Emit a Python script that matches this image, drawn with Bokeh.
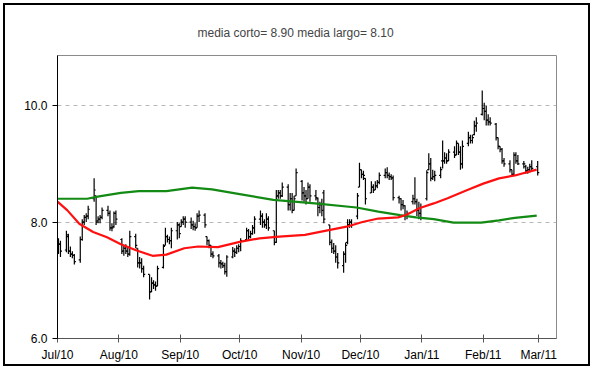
import pandas as pd
from bokeh.plotting import figure
from bokeh.models import ColumnDataSource, Range1d, FixedTicker, DatetimeTickFormatter, NumeralTickFormatter
from bokeh.embed import file_html
from bokeh.resources import INLINE

title_text = "media corto= 8.90 media largo= 8.10"
month_ticks = ["2010-07-01", "2010-08-01", "2010-09-01", "2010-10-01", "2010-11-01",
               "2010-12-01", "2011-01-01", "2011-02-01", "2011-03-01"]
y_ticks = [6.0, 8.0, 10.0]

# daily OHLC, trading days 2010-07-01 .. 2011-02-28 (one line per month)
opens = [
    7.55, 7.62, 7.52, 7.75, 7.50, 7.45, 7.43, 7.35, 7.70, 8.00, 8.08, 8.10, 8.40, 8.45, 8.02, 8.05, 8.08, 8.20, 8.15, 7.90, 7.92, 8.15,
    7.70, 7.50, 7.55, 7.50, 7.45, 7.75, 7.55, 7.30, 7.30, 7.20, 7.10, 6.80, 6.95, 6.92, 6.90, 7.22, 7.60, 7.75, 7.70, 7.68, 7.85, 7.95,
    7.92, 8.00, 8.05, 8.00, 7.95, 7.92, 7.90, 8.10, 8.12, 7.75, 7.68, 7.60, 7.45, 7.42, 7.30, 7.28, 7.25, 7.15, 7.40, 7.50, 7.48, 7.55,
    7.58, 7.70, 7.85, 7.75, 7.80, 7.90, 8.05, 8.10, 8.00, 7.95, 8.05, 7.85, 7.65, 8.45, 8.50, 8.45, 8.60, 8.30, 8.40, 8.20, 8.45,
    8.70, 8.50, 8.45, 8.40, 8.60, 8.45, 8.40, 8.25, 8.30, 8.50, 7.95, 7.65, 7.55, 7.50, 7.40, 7.25, 7.45, 7.65, 7.95, 8.00, 8.10, 8.60,
    8.90, 8.82, 8.75, 8.50, 8.60, 8.55, 8.62, 8.68, 8.80, 8.85, 8.80, 8.78, 8.76, 8.42, 8.40, 8.30, 8.28, 8.10, 8.35, 8.40, 8.35, 8.20, 8.15,
    8.40, 8.90, 9.00, 8.75, 8.78, 8.80, 9.05, 9.05, 9.10, 9.05, 9.20, 9.15, 9.35, 9.20, 9.00, 9.35, 9.45, 9.40, 9.50, 9.65, 9.85,
    9.95, 9.90, 9.75, 9.72, 9.68, 9.45, 9.30, 9.25, 9.05, 9.00, 8.90, 8.82, 9.15, 9.05, 9.00, 8.95, 8.88, 8.90, 8.95, 8.95,
]
highs = [
    7.72, 7.68, 7.85, 7.80, 7.58, 7.50, 7.45, 7.75, 8.05, 8.12, 8.15, 8.28, 8.75, 8.45, 8.10, 8.12, 8.25, 8.28, 8.20, 7.98, 8.18, 8.20,
    7.72, 7.60, 7.62, 7.58, 7.85, 7.80, 7.55, 7.40, 7.38, 7.25, 7.10, 7.05, 7.00, 6.98, 7.25, 7.62, 7.90, 7.78, 7.75, 7.90, 8.00, 7.98,
    8.05, 8.10, 8.10, 8.08, 8.02, 7.98, 8.15, 8.20, 8.15, 7.75, 7.70, 7.60, 7.50, 7.45, 7.35, 7.32, 7.30, 7.43, 7.57, 7.55, 7.60, 7.62,
    7.72, 7.90, 7.88, 7.85, 7.95, 8.10, 8.20, 8.15, 8.05, 8.15, 8.10, 7.85, 8.55, 8.55, 8.55, 8.68, 8.65, 8.50, 8.50, 8.45, 8.92,
    8.72, 8.60, 8.55, 8.68, 8.65, 8.55, 8.42, 8.35, 8.40, 8.55, 7.95, 7.70, 7.64, 7.60, 7.47, 7.50, 7.65, 8.05, 8.05, 8.05, 8.50, 9.02,
    8.90, 8.88, 8.75, 8.70, 8.65, 8.70, 8.72, 8.85, 8.92, 8.94, 8.85, 8.82, 8.80, 8.45, 8.41, 8.38, 8.29, 8.20, 8.47, 8.77, 8.40, 8.35, 8.32,
    8.89, 9.18, 9.10, 8.90, 8.88, 8.95, 9.40, 9.20, 9.18, 9.25, 9.30, 9.40, 9.35, 9.30, 9.40, 9.55, 9.50, 9.50, 9.74, 9.80, 10.26,
    10.05, 10.00, 9.85, 9.80, 9.70, 9.45, 9.30, 9.27, 9.10, 9.06, 8.90, 9.20, 9.20, 9.15, 9.05, 8.98, 8.95, 9.00, 9.06, 9.05,
]
lows = [
    7.45, 7.40, 7.48, 7.45, 7.40, 7.38, 7.27, 7.30, 7.68, 7.95, 8.00, 8.05, 8.35, 7.95, 7.98, 7.98, 8.05, 8.10, 7.85, 7.84, 7.90, 7.95,
    7.45, 7.42, 7.45, 7.40, 7.42, 7.55, 7.22, 7.20, 7.13, 7.05, 6.67, 6.80, 6.85, 6.82, 6.90, 7.20, 7.60, 7.65, 7.62, 7.55, 7.70, 7.72,
    7.92, 7.95, 7.90, 7.88, 7.86, 7.85, 7.90, 8.00, 7.90, 7.60, 7.55, 7.40, 7.38, 7.22, 7.20, 7.21, 7.10, 7.06, 7.38, 7.40, 7.45, 7.48,
    7.50, 7.68, 7.70, 7.72, 7.78, 7.80, 7.95, 7.90, 7.90, 7.88, 7.85, 7.60, 7.64, 8.40, 8.40, 8.43, 8.20, 8.20, 8.15, 8.20, 8.45,
    8.37, 8.35, 8.30, 8.40, 8.35, 8.37, 8.10, 8.15, 8.10, 7.98, 7.60, 7.47, 7.45, 7.30, 7.20, 7.13, 7.30, 7.62, 7.90, 7.90, 8.05, 8.60,
    8.75, 8.72, 8.30, 8.50, 8.50, 8.55, 8.58, 8.65, 8.75, 8.75, 8.72, 8.72, 8.37, 8.32, 8.20, 8.22, 8.03, 8.05, 8.30, 8.30, 8.10, 8.05, 8.03,
    8.37, 8.89, 8.70, 8.72, 8.70, 8.75, 8.92, 9.00, 9.00, 9.05, 9.10, 9.15, 9.15, 8.90, 8.92, 9.30, 9.35, 9.35, 9.49, 9.55, 9.83,
    9.75, 9.66, 9.66, 9.66, 9.40, 9.25, 9.20, 9.00, 8.95, 8.85, 8.78, 8.80, 9.00, 8.98, 8.92, 8.83, 8.83, 8.85, 8.88, 8.80,
]
closes = [
    7.62, 7.50, 7.78, 7.50, 7.45, 7.43, 7.32, 7.70, 8.00, 8.08, 8.10, 8.22, 8.55, 8.00, 8.05, 8.08, 8.20, 8.15, 7.90, 7.90, 8.15, 8.05,
    7.50, 7.55, 7.50, 7.45, 7.75, 7.60, 7.30, 7.30, 7.20, 7.10, 6.80, 6.95, 6.92, 6.90, 7.20, 7.58, 7.75, 7.70, 7.68, 7.85, 7.95, 7.80,
    8.00, 8.05, 8.00, 7.95, 7.92, 7.90, 8.10, 8.12, 7.95, 7.68, 7.60, 7.45, 7.42, 7.30, 7.28, 7.25, 7.15, 7.40, 7.50, 7.48, 7.55, 7.58,
    7.68, 7.85, 7.75, 7.80, 7.90, 8.05, 8.10, 8.00, 7.95, 8.05, 7.90, 7.65, 8.45, 8.50, 8.45, 8.60, 8.30, 8.40, 8.20, 8.40, 8.85,
    8.50, 8.45, 8.40, 8.60, 8.45, 8.42, 8.25, 8.30, 8.20, 8.05, 7.65, 7.55, 7.50, 7.40, 7.30, 7.45, 7.60, 7.95, 8.00, 7.95, 8.45, 8.90,
    8.82, 8.80, 8.40, 8.60, 8.55, 8.62, 8.68, 8.80, 8.85, 8.80, 8.78, 8.76, 8.42, 8.40, 8.30, 8.28, 8.10, 8.15, 8.40, 8.35, 8.20, 8.15, 8.25,
    8.85, 9.00, 8.75, 8.78, 8.80, 8.90, 9.05, 9.10, 9.05, 9.20, 9.15, 9.35, 9.20, 9.00, 9.30, 9.45, 9.40, 9.45, 9.65, 9.70, 9.95,
    9.90, 9.75, 9.72, 9.70, 9.45, 9.30, 9.25, 9.05, 9.00, 8.90, 8.82, 9.15, 9.05, 9.00, 9.00, 8.88, 8.90, 8.95, 8.92, 8.85,
]

# short moving average (red)
short_ma_dates = ["2010-07-01", "2010-07-06", "2010-07-12", "2010-07-19", "2010-07-26", "2010-08-02", "2010-08-10",
                  "2010-08-18", "2010-08-25", "2010-09-03", "2010-09-10", "2010-09-20", "2010-10-01", "2010-10-11",
                  "2010-10-21", "2010-11-03", "2010-11-15", "2010-11-24", "2010-12-02", "2010-12-10", "2010-12-20",
                  "2010-12-24", "2010-12-31", "2011-01-07", "2011-01-14", "2011-01-24", "2011-02-01", "2011-02-09",
                  "2011-02-17", "2011-02-28"]
short_ma = [8.35, 8.20, 7.97, 7.83, 7.74, 7.62, 7.51, 7.42, 7.44, 7.55, 7.58, 7.57, 7.66, 7.72, 7.75, 7.78,
            7.86, 7.92, 8.00, 8.06, 8.08, 8.12, 8.24, 8.32, 8.41, 8.55, 8.66, 8.75, 8.80, 8.90]

# long moving average (green)
long_ma_dates = ["2010-07-01", "2010-07-16", "2010-07-22", "2010-08-02", "2010-08-11", "2010-08-25", "2010-09-07",
                 "2010-09-17", "2010-10-01", "2010-10-18", "2010-11-08", "2010-11-29", "2010-12-10", "2010-12-21",
                 "2010-12-29", "2011-01-07", "2011-01-17", "2011-01-31", "2011-02-09", "2011-02-17", "2011-02-28"]
long_ma = [8.40, 8.40, 8.44, 8.50, 8.53, 8.53, 8.59, 8.56, 8.48, 8.38, 8.32, 8.25, 8.18, 8.12, 8.08, 8.05,
           7.99, 7.99, 8.03, 8.07, 8.11]

dates = pd.bdate_range("2010-07-01", "2011-02-28")
assert len(dates) == len(opens) == len(highs) == len(lows) == len(closes)

xc = dates + pd.Timedelta(hours=12)
tick_len = pd.Timedelta(hours=19)
src = ColumnDataSource(dict(x=xc, x0=xc - tick_len, x1=xc + tick_len,
                            o=opens, h=highs, l=lows, c=closes))

p = figure(width=587, height=363, x_axis_type="datetime", output_backend="svg", toolbar_location=None,
           x_range=Range1d(pd.Timestamp("2010-07-01"), pd.Timestamp("2011-03-10")),
           y_range=Range1d(6.0, 10.86),
           min_border_left=52, min_border_right=36, min_border_top=50, min_border_bottom=30,
           background_fill_color="white", border_fill_color="white")
p.styles = {"border": "2px solid black", "margin": "3px 0 0 3px"}

p.title.text = title_text
p.title.align = "left"
p.title.text_font = "Liberation Sans"
p.title.text_font_size = "12px"
p.title.text_font_style = "normal"
p.title.standoff = 32
p.title.offset = 140

p.outline_line_color = "#8a8a8a"
p.outline_line_width = 1

# grid
p.xgrid.visible = False
p.ygrid.ticker = FixedTicker(ticks=y_ticks)
p.ygrid.grid_line_color = "#b8b8b8"
p.ygrid.grid_line_dash = "4 4"

# axes
tick_ms = [pd.Timestamp(t).timestamp() * 1000 for t in month_ticks]
p.xaxis.ticker = FixedTicker(ticks=tick_ms)
fmt = "%b/%y"
p.xaxis.formatter = DatetimeTickFormatter(milliseconds=fmt, seconds=fmt, minsec=fmt, minutes=fmt,
                                          hourmin=fmt, hours=fmt, days=fmt, months=fmt, years=fmt)
p.yaxis.ticker = FixedTicker(ticks=y_ticks)
p.yaxis.formatter = NumeralTickFormatter(format="0.0")
p.xaxis.minor_tick_line_color = None
p.yaxis.minor_tick_line_color = None
p.xaxis.major_tick_in = 4
p.xaxis.major_tick_out = 4
p.yaxis.major_tick_in = 0
p.yaxis.major_tick_out = 5
p.xaxis.axis_line_color = "#555555"
p.xaxis.major_tick_line_color = "#555555"
p.yaxis.axis_line_color = "black"
p.yaxis.major_tick_line_color = "black"
for ax in (p.xaxis, p.yaxis):
    ax.major_label_text_font = "Liberation Sans"
    ax.major_label_text_font_size = "12px"
    ax.major_label_text_color = "black"
    ax.major_label_standoff = 5

# OHLC bars
p.segment(x0="x", y0="l", x1="x", y1="h", source=src, line_color="black", line_width=1.2)
p.segment(x0="x0", y0="o", x1="x", y1="o", source=src, line_color="black", line_width=1.2)
p.segment(x0="x", y0="c", x1="x1", y1="c", source=src, line_color="black", line_width=1.2)

# moving averages
p.line(pd.to_datetime(long_ma_dates), long_ma, line_color="#138a13", line_width=2.2)
p.line(pd.to_datetime(short_ma_dates), short_ma, line_color="#ff1010", line_width=2.2)

open("out.html", "w").write(file_html(p, INLINE))
